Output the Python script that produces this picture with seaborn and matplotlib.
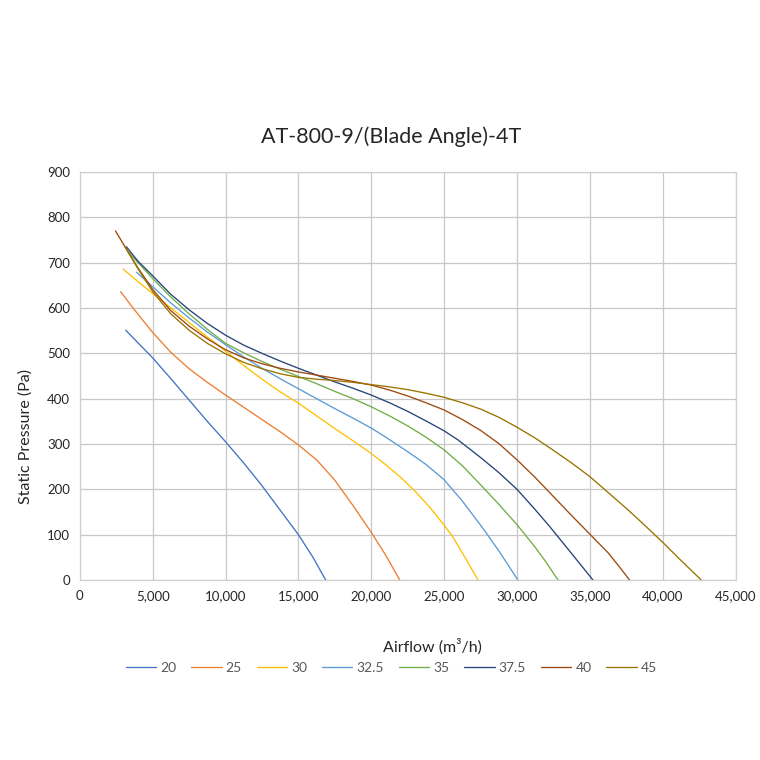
import pandas as pd
import seaborn as sns
import matplotlib.pyplot as plt
from matplotlib.ticker import FuncFormatter, MultipleLocator

# blade angle curves (airflow m3/h, static pressure Pa)
angles = ['20', '25', '30', '32.5', '35', '37.5', '40', '45']
colors = ['#4472C4', '#ED7D31', '#FFC000', '#5B9BD5', '#70AD47', '#264478', '#9E480E', '#997300']

flow_20 = [3150, 4000, 5000, 6250, 7500, 8750, 10000, 11250, 12500, 13750, 15000, 16000, 16870]
pres_20 = [551, 523, 490, 444, 397, 350, 305, 258, 208, 154, 100, 50, 0]

flow_25 = [2800, 3750, 5000, 6250, 7500, 8750, 10000, 11250, 12500, 13750, 15000, 16250, 17500,
           18750, 20000, 21000, 21950]
pres_25 = [636, 596, 546, 502, 466, 436, 408, 381, 354, 327, 298, 265, 220, 164, 105, 54, 0]

flow_30 = [2970, 4000, 5000, 6250, 7500, 8750, 10000, 11250, 12500, 13750, 15000, 16250, 17500,
           18750, 20000, 21000, 22000, 23000, 24000, 25000, 25600, 26500, 27320]
pres_30 = [686, 658, 632, 600, 568, 536, 505, 473, 443, 415, 390, 362, 334, 307, 279, 254, 227,
           196, 161, 121, 95, 46, 0]

flow_325 = [3890, 5000, 6250, 7500, 8750, 10000, 11250, 12500, 13750, 15000, 16250, 17500, 18750,
            20000, 21000, 22500, 23750, 25000, 26250, 27660, 28800, 30060]
pres_325 = [679, 647, 611, 578, 547, 519, 492, 467, 444, 422, 400, 378, 357, 335, 315, 283, 255,
            221, 174, 114, 62, 0]

flow_35 = [3300, 4000, 5000, 6250, 7500, 8750, 10000, 11250, 12500, 13750, 15000, 16250, 17500,
           18750, 20000, 21250, 22500, 23750, 25000, 26250, 27500, 28750, 30000, 31250, 32000, 32810]
pres_35 = [725, 700, 665, 624, 587, 553, 522, 501, 482, 465, 449, 433, 416, 400, 382, 362, 340,
           315, 287, 252, 210, 167, 122, 72, 39, 0]

flow_375 = [3200, 4000, 5000, 6250, 7500, 8750, 10000, 11250, 12500, 13750, 15000, 16250, 17500,
            18750, 20000, 21250, 22500, 23750, 25000, 25950, 27430, 28750, 30000, 31250, 32240,
            33830, 35210]
pres_375 = [735, 703, 671, 630, 596, 566, 540, 518, 500, 483, 467, 452, 437, 423, 408, 391, 372,
            351, 329, 309, 272, 237, 200, 155, 118, 55, 0]

flow_40 = [2450, 3250, 4000, 5000, 6250, 7500, 8750, 10000, 11250, 12500, 13750, 15000, 16250,
           17500, 18750, 20000, 21250, 22500, 23750, 25000, 26250, 27500, 28750, 30000, 31250,
           32500, 33750, 35000, 36250, 37000, 37720]
pres_40 = [770, 727, 688, 641, 594, 560, 532, 508, 490, 477, 467, 459, 452, 445, 438, 430, 419,
           406, 391, 375, 354, 330, 301, 265, 226, 184, 142, 101, 60, 30, 0]

flow_45 = [3100, 4000, 5000, 6250, 7500, 8750, 10000, 11250, 12500, 13750, 15000, 16250, 17500,
           18750, 20000, 21250, 22500, 23750, 25000, 26250, 27500, 28750, 30000, 31250, 32500,
           33750, 35000, 36250, 37500, 38750, 40000, 41250, 42640]
pres_45 = [735, 686, 636, 587, 551, 522, 499, 480, 466, 455, 447, 443, 440, 436, 431, 426, 420,
           412, 403, 391, 377, 359, 337, 313, 286, 258, 228, 193, 158, 121, 83, 43, 0]

flows = [flow_20, flow_25, flow_30, flow_325, flow_35, flow_375, flow_40, flow_45]
pressures = [pres_20, pres_25, pres_30, pres_325, pres_35, pres_375, pres_40, pres_45]

frames = []
for angle, fl, pr in zip(angles, flows, pressures):
    frames.append(pd.DataFrame({'Airflow': fl, 'Pressure': pr, 'Angle': angle}))
df = pd.concat(frames, ignore_index=True)

sns.set_style('white')
plt.rcParams['font.family'] = ['Lato', 'DejaVu Sans']

fig = plt.figure(figsize=(7.6, 7.6), dpi=100)
ax = fig.add_axes([0.105, 0.2368, 0.863, 0.5369])

sns.lineplot(data=df, x='Airflow', y='Pressure', hue='Angle', hue_order=angles,
             palette=dict(zip(angles, colors)), sort=False, estimator=None,
             linewidth=0.95, ax=ax)

ax.set_xlim(0, 45000)
ax.set_ylim(0, 900)
ax.xaxis.set_major_locator(MultipleLocator(5000))
ax.yaxis.set_major_locator(MultipleLocator(100))
ax.xaxis.set_major_formatter(FuncFormatter(lambda v, p: '0' if v == 0 else f'{int(v):,}'))
ax.grid(True, color='#C8C8C8', linewidth=0.9)
ax.set_axisbelow(True)
for side in ['top', 'right', 'left', 'bottom']:
    ax.spines[side].set_color('#D0D0D0')
    ax.spines[side].set_linewidth(0.9)
ax.tick_params(axis='both', length=0, labelsize=9.5, colors='#262626', pad=7)

ax.set_xlabel('')
ax.set_ylabel('')
fig.text(0.033, 0.425, 'Static Pressure (Pa)', rotation=90, ha='center', va='center',
         fontsize=11.5, color='#262626')
fig.text(0.569, 0.149, 'Airflow (m³/h)', ha='center', va='center', fontsize=11.5, color='#262626')
fig.text(0.515, 0.82, 'AT-800-9/(Blade Angle)-4T', ha='center', va='center', fontsize=15.5,
         color='#262626')

handles, labels = ax.get_legend_handles_labels()
ax.get_legend().remove()
fig.legend(handles, labels, loc='center', bbox_to_anchor=(0.515, 0.121), ncol=8, frameon=False,
           fontsize=10, labelcolor='#595959', handlelength=2.2, handletextpad=0.3, columnspacing=1.05)

fig.savefig('out.png', dpi=100)
plt.close(fig)
